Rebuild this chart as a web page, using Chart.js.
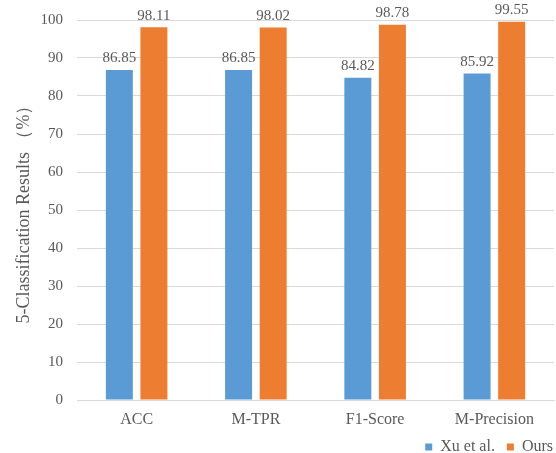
<!DOCTYPE html>
<html>
<head>
<meta charset="utf-8">
<script src="https://cdn.jsdelivr.net/npm/chart.js@4.4.0/dist/chart.umd.min.js"></script>
<style>
  html, body { margin: 0; padding: 0; background: #fff; }
  #wrap { width: 556px; height: 453px; }
</style>
</head>
<body>
<div id="wrap"><canvas id="c" width="556" height="453"></canvas></div>
<script>
const categories = ['ACC', 'M-TPR', 'F1-Score', 'M-Precision'];
const xuValues = [86.85, 86.85, 84.82, 85.92];
const oursValues = [98.11, 98.02, 98.78, 99.55];
const seriesNames = ['Xu et al.', 'Ours'];
const yTicks = [0, 10, 20, 30, 40, 50, 60, 70, 80, 90, 100];

const serif = "'Liberation Serif', 'Times New Roman', serif";
const textColor = '#595959';

// Writes each bar's value just above its top
const valueLabels = {
  id: 'valueLabels',
  afterDatasetsDraw(chart) {
    const ctx = chart.ctx;
    ctx.save();
    ctx.font = '15px ' + serif;
    ctx.fillStyle = textColor;
    ctx.textAlign = 'center';
    ctx.textBaseline = 'bottom';
    chart.data.datasets.forEach((ds, i) => {
      chart.getDatasetMeta(i).data.forEach((bar, j) => {
        ctx.fillText(ds.data[j].toFixed(2), bar.x, bar.y - 4);
      });
    });
    ctx.restore();
  }
};

// Nudges the legend block toward the right edge of the canvas
const legendShift = {
  id: 'legendShift',
  afterLayout(chart) {
    if (chart.legend) {
      chart.legend.left += 11;
      chart.legend.right += 11;
    }
  }
};

new Chart(document.getElementById('c'), {
  type: 'bar',
  data: {
    labels: categories,
    datasets: [
      { label: seriesNames[0], data: xuValues, backgroundColor: '#5B9BD5' },
      { label: seriesNames[1], data: oursValues, backgroundColor: '#ED7D31' }
    ]
  },
  options: {
    responsive: false,
    animation: false,
    devicePixelRatio: 1,
    layout: { padding: { top: 20, right: 2, left: 9, bottom: -12 } },
    datasets: { bar: { categoryPercentage: 0.58, barPercentage: 0.78 } },
    plugins: {
      legend: {
        position: 'bottom',
        align: 'end',
        labels: {
          font: { family: serif, size: 16 },
          color: textColor,
          boxWidth: 7,
          boxHeight: 7,
          padding: 12
        }
      },
      tooltip: { enabled: false }
    },
    scales: {
      x: {
        grid: { display: false, drawTicks: false },
        border: { display: true, color: '#d9d9d9', width: 1 },
        ticks: { font: { family: serif, size: 16 }, color: textColor, padding: 10 },
        afterFit(scale) { scale.height = 27; }
      },
      y: {
        min: 0,
        max: 100,
        afterBuildTicks(axis) { axis.ticks = yTicks.map(v => ({ value: v })); },
        grid: { color: '#d9d9d9', drawTicks: false },
        border: { display: false },
        ticks: { font: { family: serif, size: 15 }, color: textColor, padding: 14 },
        title: {
          display: true,
          text: '5-Classification Results （%）',
          font: { family: serif, size: 18 },
          color: textColor,
          padding: { top: 4, bottom: 6 }
        },
        afterFit(scale) { scale.width = 68; scale.paddingTop = 0; }
      }
    }
  },
  plugins: [valueLabels, legendShift]
});
</script>
</body>
</html>
